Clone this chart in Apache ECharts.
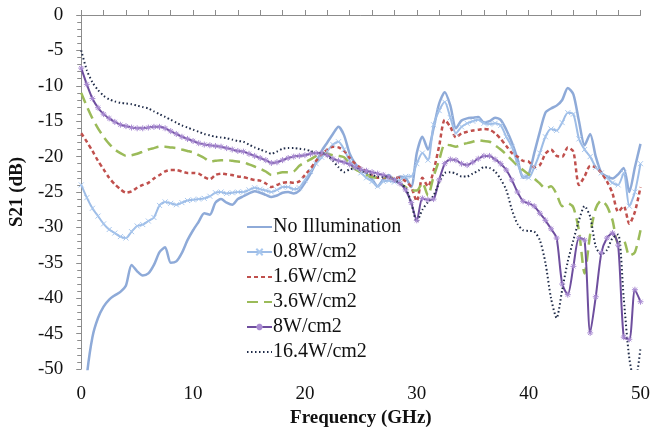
<!DOCTYPE html>
<html>
<head>
<meta charset="utf-8">
<script src="https://cdn.jsdelivr.net/npm/echarts@6/dist/echarts.min.js"></script>
<style>html,body{margin:0;padding:0;background:#fff}#c{width:653px;height:434px}</style>
</head>
<body>
<div id="c"></div>
<script>
const freq = [0,0.5,1,1.5,2,2.5,3,3.5,4,4.5,5,5.5,6,6.5,7,7.5,8,8.5,9,9.5,10,10.5,11,11.5,12,12.5,13,13.5,14,14.5,15,15.5,16,16.5,17,17.5,18,18.5,19,19.5,20,20.5,21,21.5,22,22.5,23,23.5,24,24.5,25,25.5,26,26.5,27,27.5,28,28.5,29,29.5,30,30.5,31,31.5,32,32.5,33,33.5,34,34.5,35,35.5,36,36.5,37,37.5,38,38.5,39,39.5,40,40.5,41,41.5,42,42.5,43,43.5,44,44.5,45,45.5,46,46.5,47,47.5,48,48.5,49,49.5,50];

const seriesNames = ['No Illumination','0.8W/cm2','1.6W/cm2','3.6W/cm2','8W/cm2','16.4W/cm2'];

const noIllum = [-60,-51,-45.5,-42.8,-41.2,-40.2,-39.6,-39.1,-38.2,-35.3,
-36.2,-36.8,-36.5,-35.3,-33.5,-32.8,-35.0,-34.8,-33.6,-31.8,
-30.4,-29.2,-28.0,-28.2,-26.5,-26.0,-26.5,-26.8,-26.0,-25.6,
-25.2,-24.9,-25.1,-25.4,-25.7,-25.5,-25.1,-25.0,-25.2,-24.8,
-23.7,-22.4,-20.8,-19.2,-18.0,-16.8,-15.8,-17.0,-19.6,-21.0,
-21.8,-22.4,-23.2,-24.2,-23.2,-22.6,-23.3,-22.8,-23.0,-24.3,
-19.5,-17.2,-19.0,-16.0,-12.5,-10.9,-12.8,-16.0,-14.9,-14.6,
-14.5,-14.4,-15.2,-15.0,-14.5,-14.8,-16.2,-18.0,-20.3,-23.0,
-22.5,-19.5,-16.5,-13.8,-13.2,-12.8,-12.0,-10.3,-11.2,-15.0,
-18.4,-16.8,-20.0,-22.3,-22.8,-23.1,-22.5,-21.6,-25.0,-21.5,
-18.2];

const w08 = [-24.0,-25.8,-27.3,-28.4,-29.5,-30.3,-30.8,-31.3,-31.5,-30.6,
-29.8,-29.6,-29.1,-28.6,-26.9,-26.4,-26.6,-26.8,-26.5,-26.2,
-26.1,-26.0,-25.9,-25.6,-25.1,-25.0,-25.2,-25.1,-25.0,-25.0,
-24.7,-24.4,-24.6,-24.8,-25.0,-24.7,-24.3,-24.3,-24.6,-24.4,
-23.3,-22.1,-21.0,-20.1,-19.2,-18.3,-17.9,-19.0,-20.6,-21.6,
-22.3,-23.0,-23.5,-24.2,-23.5,-23.4,-23.6,-23.3,-22.8,-22.8,
-21.0,-19.5,-20.5,-15.5,-13.5,-12.3,-14.5,-16.7,-15.8,-15.3,
-15.0,-14.8,-15.3,-15.4,-15.3,-15.6,-17.2,-18.6,-21.0,-22.8,
-23.0,-21.5,-19.5,-17.2,-16.1,-16.3,-15.2,-13.8,-14.0,-17.5,
-19.0,-20.0,-21.5,-22.3,-23.0,-23.7,-24.0,-22.3,-27.0,-25.0,
-21.0];

const w16 = [-16.7,-17.9,-19.2,-20.6,-21.8,-23.0,-23.9,-24.6,-25.1,-24.9,
-24.4,-24.0,-23.7,-23.1,-22.6,-22.1,-21.9,-21.9,-22.1,-22.3,
-22.3,-22.4,-22.9,-23.2,-22.6,-22.4,-22.5,-22.6,-22.8,-22.9,
-23.1,-23.3,-23.4,-23.8,-24.3,-24.0,-23.7,-23.6,-23.7,-23.5,
-22.6,-21.7,-20.6,-19.7,-19.0,-18.6,-18.7,-19.2,-20.2,-21.0,
-21.6,-22.1,-22.6,-23.0,-23.0,-23.1,-23.0,-23.0,-23.5,-24.3,
-26.3,-23.0,-24.2,-22.0,-18.5,-14.8,-15.8,-17.3,-16.7,-16.5,
-16.3,-16.2,-16.1,-16.2,-16.7,-17.5,-18.5,-19.5,-20.0,-20.6,
-20.7,-21.5,-21.2,-19.6,-19.0,-19.9,-20.0,-18.7,-19.3,-24.0,
-22.8,-21.3,-21.5,-22.3,-23.5,-25.2,-27.8,-27.0,-29.5,-27.8,
-24.3];

const w36 = [-11.0,-12.9,-14.6,-16.0,-17.2,-18.2,-19.0,-19.5,-19.9,-19.8,
-19.6,-19.3,-19.0,-18.8,-18.6,-18.6,-18.7,-18.8,-19.0,-19.2,
-19.4,-19.8,-20.2,-20.7,-20.6,-20.5,-20.5,-20.6,-20.7,-20.8,
-21.1,-21.4,-21.7,-22.1,-22.6,-22.4,-22.2,-22.2,-22.1,-21.3,
-20.8,-20.4,-19.9,-19.5,-19.6,-19.8,-19.9,-20.1,-21.0,-21.8,
-22.2,-22.6,-22.9,-23.0,-22.9,-22.9,-23.3,-23.8,-24.3,-24.8,
-24.8,-23.7,-25.5,-22.8,-20.5,-18.3,-18.4,-18.6,-18.3,-18.1,
-17.9,-17.7,-17.8,-17.9,-18.4,-19.0,-19.7,-20.5,-21.3,-21.9,
-22.5,-23.1,-23.8,-24.5,-24.2,-25.3,-27.0,-26.6,-27.2,-30.5,
-36.5,-31.0,-27.3,-26.2,-27.0,-29.0,-32.3,-31.9,-34.0,-33.5,
-30.4];

const w8 = [-7.5,-9.8,-11.8,-13.1,-14.0,-14.6,-15.1,-15.5,-15.7,-15.9,
-16.0,-16.0,-15.9,-15.8,-15.8,-16.0,-16.4,-16.8,-17.2,-17.5,
-17.8,-18.1,-18.3,-18.4,-18.5,-18.6,-18.8,-19.0,-19.2,-19.3,
-19.6,-19.9,-20.2,-20.5,-20.9,-20.8,-20.5,-20.2,-20.0,-19.9,
-19.8,-19.6,-19.5,-19.5,-19.8,-20.3,-20.6,-20.8,-21.1,-21.5,
-21.8,-22.0,-22.2,-22.4,-22.6,-22.9,-23.3,-23.8,-24.7,-26.5,
-29.0,-25.9,-26.1,-26.0,-23.3,-21.0,-20.4,-20.5,-21.0,-21.2,
-20.8,-20.3,-19.9,-19.9,-20.4,-21.0,-21.9,-23.3,-25.0,-26.3,
-26.6,-27.0,-28.0,-29.0,-30.2,-31.5,-38.0,-39.5,-35.5,-31.5,
-31.8,-44.9,-39.8,-33.6,-31.5,-30.8,-32.5,-45.5,-45.8,-38.8,
-40.5];

const w164 = [-5.0,-7.8,-9.5,-10.6,-11.4,-11.9,-12.2,-12.4,-12.5,-12.6,
-12.8,-13.0,-13.2,-13.6,-14.0,-14.4,-14.8,-15.2,-15.6,-15.9,
-16.2,-16.5,-16.8,-17.0,-17.2,-17.3,-17.4,-17.6,-17.8,-17.9,
-18.3,-18.7,-19.0,-19.3,-19.6,-19.3,-18.9,-18.8,-18.8,-18.9,
-19.0,-19.2,-19.5,-19.5,-19.9,-20.6,-21.5,-22.2,-21.8,-21.7,
-22.0,-22.3,-22.6,-22.8,-22.9,-22.9,-23.3,-23.8,-24.4,-26.5,
-29.2,-27.5,-26.4,-25.5,-23.7,-22.3,-22.2,-22.4,-22.8,-22.8,
-22.4,-22.0,-21.5,-21.6,-22.1,-23.2,-24.7,-27.5,-29.5,-30.4,
-30.5,-30.6,-31.8,-35.0,-40.0,-42.8,-38.8,-34.8,-31.8,-29.0,
-27.0,-28.5,-32.7,-33.8,-33.2,-31.5,-31.0,-40.0,-48.5,-52.0,
-47.0];

const pairs = v => freq.map((f, i) => [f, v[i]]);
const serif = '"Liberation Serif","Times New Roman",serif';
const crossPath = 'path://M0,0L10,10M0,10L10,0';
const starPath = 'path://M5,0L5,10M0,5L10,5M1.5,1.5L8.5,8.5M1.5,8.5L8.5,1.5';
const hidden = { color: 'rgba(0,0,0,0)', borderColor: 'rgba(0,0,0,0)', borderWidth: 0 };

const chart = echarts.init(document.getElementById('c'));
chart.setOption({
  animation: false,
  backgroundColor: '#fff',
  grid: { left: 81, right: 11, top: 15, bottom: 65, containLabel: false },
  legend: {
    orient: 'vertical', left: 241, top: 212,
    itemWidth: 25, itemHeight: 8, itemGap: 5,
    textStyle: { fontFamily: serif, fontSize: 20, color: '#111', lineHeight: 20, padding: [0,0,0,-4] },
    data: [
      { name: seriesNames[0], itemStyle: hidden },
      { name: seriesNames[1] },
      { name: seriesNames[2], itemStyle: hidden },
      { name: seriesNames[3], itemStyle: hidden },
      { name: seriesNames[4] },
      { name: seriesNames[5], itemStyle: hidden }
    ]
  },
  xAxis: {
    type: 'value', min: 0, max: 50, interval: 10,
    name: 'Frequency (GHz)', nameLocation: 'middle', nameGap: 33,
    nameTextStyle: { fontFamily: serif, fontSize: 19, fontWeight: 'bold', color: '#111' },
    axisLine: { lineStyle: { color: '#8c8c8c', width: 1 } },
    axisTick: { show: true, inside: true, length: 5, lineStyle: { color: '#8c8c8c' } },
    minorTick: { show: true, splitNumber: 5, length: 5, lineStyle: { color: '#8c8c8c' } },
    axisLabel: { fontFamily: serif, fontSize: 19, color: '#111', margin: 16 },
    splitLine: { show: false }
  },
  yAxis: {
    type: 'value', min: -50, max: 0, interval: 5,
    name: 'S21 (dB)', nameLocation: 'middle', nameGap: 50, nameRotate: 90,
    nameTextStyle: { fontFamily: serif, fontSize: 19, fontWeight: 'bold', color: '#111' },
    axisLine: { show: true, lineStyle: { color: '#8c8c8c', width: 1 } },
    axisTick: { show: true, inside: false, length: 5, lineStyle: { color: '#8c8c8c' } },
    minorTick: { show: true, splitNumber: 5, length: 4, lineStyle: { color: '#8c8c8c' } },
    axisLabel: { fontFamily: serif, fontSize: 19, color: '#111', margin: 18 },
    splitLine: { show: false }
  },
  series: [
    { name: seriesNames[0], type: 'line', data: pairs(noIllum), smooth: 0.25, symbol: 'none',
      lineStyle: { color: '#8eaad8', width: 2.5 }, itemStyle: { color: '#8eaad8' } },
    { name: seriesNames[1], type: 'line', data: pairs(w08), smooth: 0.25, symbol: crossPath, symbolSize: 5,
      lineStyle: { color: '#9dbce6', width: 2 },
      itemStyle: { color: '#a9c8ef', borderColor: '#a9c8ef', borderWidth: 1 } },
    { name: seriesNames[2], type: 'line', data: pairs(w16), smooth: 0.25, symbol: 'none',
      lineStyle: { color: '#c0504d', width: 2.5, type: [4, 3] }, itemStyle: { color: '#c0504d' } },
    { name: seriesNames[3], type: 'line', data: pairs(w36), smooth: 0.25, symbol: 'none',
      lineStyle: { color: '#9bbb59', width: 2.5, type: [11, 6] }, itemStyle: { color: '#9bbb59' } },
    { name: seriesNames[4], type: 'line', data: pairs(w8), smooth: 0.25, symbol: starPath, symbolSize: 6,
      lineStyle: { color: '#6e4e9e', width: 2 },
      itemStyle: { color: '#a98bd2', borderColor: '#a98bd2', borderWidth: 1 } },
    { name: seriesNames[5], type: 'line', data: pairs(w164), smooth: 0.25, symbol: 'none',
      lineStyle: { color: '#1f2b48', width: 2, type: [1.5, 2.5] }, itemStyle: { color: '#1f2b48' } }
  ]
});
</script>
</body>
</html>
